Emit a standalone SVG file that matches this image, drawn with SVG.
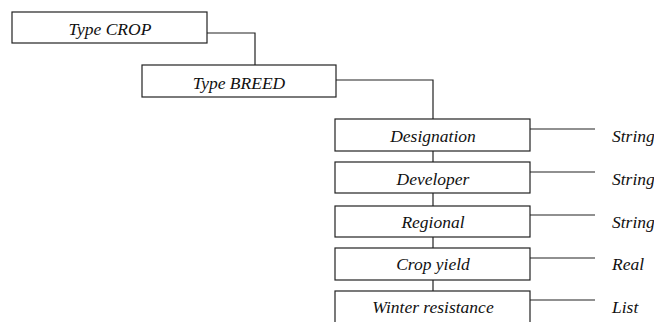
<svg xmlns="http://www.w3.org/2000/svg" width="654" height="322" viewBox="0 0 654 322">
<style>
.box{fill:#fff;stroke:#222;stroke-width:1.2}
.ln{fill:none;stroke:#222;stroke-width:1.2}
text{font-family:"Liberation Serif","Times New Roman",serif;font-style:italic;font-size:17.5px;fill:#111}
.c{text-anchor:middle}
</style>
<rect width="654" height="322" fill="#fff"/>
<g id="connectors">
<polyline class="ln" points="207,33 255,33 255,65"/>
<polyline class="ln" points="336,80 433,80 433,119"/>
<line class="ln" x1="433" y1="151" x2="433" y2="162"/>
<line class="ln" x1="433" y1="193" x2="433" y2="206"/>
<line class="ln" x1="433" y1="237" x2="433" y2="248"/>
<line class="ln" x1="433" y1="280" x2="433" y2="291"/>
<line class="ln" x1="530" y1="129" x2="595" y2="129"/>
<line class="ln" x1="530" y1="172" x2="595" y2="172"/>
<line class="ln" x1="530" y1="215" x2="595" y2="215"/>
<line class="ln" x1="530" y1="258" x2="595" y2="258"/>
<line class="ln" x1="530" y1="300" x2="595" y2="300"/>
</g>
<g id="crop"><rect class="box" x="12" y="12" width="195" height="31"/><text class="c" x="110" y="35">Type CROP</text></g>
<g id="breed"><rect class="box" x="142" y="65" width="194" height="32"/><text class="c" x="239" y="89">Type BREED</text></g>
<g id="designation"><rect class="box" x="335" y="119" width="195" height="32"/><text class="c" x="433" y="142">Designation</text></g>
<g id="developer"><rect class="box" x="335" y="162" width="195" height="31"/><text class="c" x="433" y="185">Developer</text></g>
<g id="regional"><rect class="box" x="335" y="206" width="195" height="31"/><text class="c" x="433" y="228">Regional</text></g>
<g id="cropyield"><rect class="box" x="335" y="248" width="195" height="32"/><text class="c" x="433" y="270">Crop yield</text></g>
<g id="winter"><rect class="box" x="335" y="291" width="195" height="40"/><text class="c" x="433" y="313">Winter resistance</text></g>
<g id="t1"><text x="612" y="142">String</text></g>
<g id="t2"><text x="612" y="185">String</text></g>
<g id="t3"><text x="612" y="228">String</text></g>
<g id="t4"><text x="612" y="270">Real</text></g>
<g id="t5"><text x="612" y="313">List</text></g>
</svg>
